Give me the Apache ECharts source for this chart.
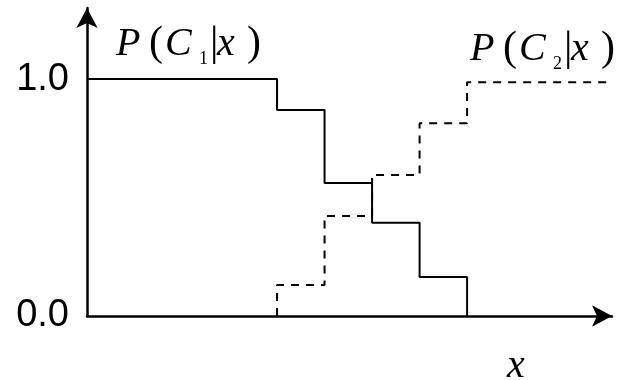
<!DOCTYPE html>
<html><head><meta charset="utf-8">
<script src="https://cdn.jsdelivr.net/npm/echarts@6/dist/echarts.min.js"></script>
<style>html,body{margin:0;padding:0;background:#fff}#c{width:618px;height:380px}</style>
</head><body><div id="c"></div>
<script>
// step edges along x (in step units) and posterior values
const xEdges = [0, 4, 5, 6, 7, 8];
const c1Values = [1.0, 0.869, 0.561, 0.394, 0.165, 0.0];
const c2Edges = [4, 4, 5, 6, 7, 8, 11.05];
const c2Values = [0.0, 0.131, 0.422, 0.595, 0.814, 0.987, 0.987];
const yTickLabels = {0: '0.0', 1: '1.0'};

const c1Data = xEdges.map((x, i) => [x, c1Values[i]]);
const c2Data = c2Edges.map((x, i) => [x, c2Values[i]]);

const serif = '"Liberation Serif", "DejaVu Serif", serif';
function labelRich() {
  const base = {fontFamily: serif, fontWeight: 'normal', color: '#000', lineHeight: 46, align: 'left'};
  return {
    p: Object.assign({}, base, {fontStyle: 'italic', fontSize: 40, width: 33}),
    o: Object.assign({}, base, {fontSize: 42, width: 16}),
    c: Object.assign({}, base, {fontStyle: 'italic', fontSize: 40, width: 34}),
    s: Object.assign({}, base, {fontSize: 18, width: 11, padding: [30, 0, 0, 0]}),
    v: Object.assign({}, base, {fontSize: 42, width: 7}),
    x: Object.assign({}, base, {fontStyle: 'italic', fontSize: 40, width: 30}),
    e: Object.assign({}, base, {fontSize: 42, width: 14})
  };
}

const chart = echarts.init(document.getElementById('c'), null, {renderer: 'canvas'});
chart.setOption({
  animation: false,
  backgroundColor: '#fff',
  title: [
    {text: '{p|P}{o|(}{c|C}{s|1}{v||}{x|x}{e|)}', left: 116, top: 21, padding: 0,
     textStyle: {fontWeight: 'normal', rich: labelRich()}},
    {text: '{p|P}{o|(}{c|C}{s|2}{v||}{x|x}{e|)}', left: 470, top: 26, padding: 0,
     textStyle: {fontWeight: 'normal', rich: labelRich()}},
    {text: 'x', left: 507, top: 346, padding: 0,
     textStyle: {fontFamily: serif, fontStyle: 'italic', fontSize: 40, fontWeight: 'normal', color: '#000'}}
  ],
  grid: {left: 87, right: 6, top: 8, bottom: 64, containLabel: false},
  xAxis: {
    type: 'value', min: 0, max: 11.05,
    axisLine: {show: true, symbol: ['none', 'arrow'], symbolSize: [16, 20],
               lineStyle: {color: '#000', width: 2.5}},
    axisTick: {show: false}, axisLabel: {show: false}, splitLine: {show: false}
  },
  yAxis: {
    type: 'value', min: 0, max: 1.3, interval: 1,
    axisLine: {show: true, symbol: ['none', 'arrow'], symbolSize: [16, 20],
               lineStyle: {color: '#000', width: 2.5}},
    axisTick: {show: false}, splitLine: {show: false},
    axisLabel: {
      margin: 18, fontSize: 38, color: '#000', fontFamily: '"Liberation Sans", Arial, sans-serif',
      padding: [6, 0, 0, 0],
      formatter: v => (yTickLabels[v] !== undefined ? yTickLabels[v] : '')
    }
  },
  series: [
    {type: 'line', step: 'end', data: c1Data, symbol: 'none', z: 3,
     lineStyle: {color: '#000', width: 2}},
    {type: 'line', step: 'end', data: c2Data, symbol: 'none', clip: false, z: 2,
     lineStyle: {color: '#000', width: 2, type: [8, 7]}}
  ]
});
</script></body></html>
